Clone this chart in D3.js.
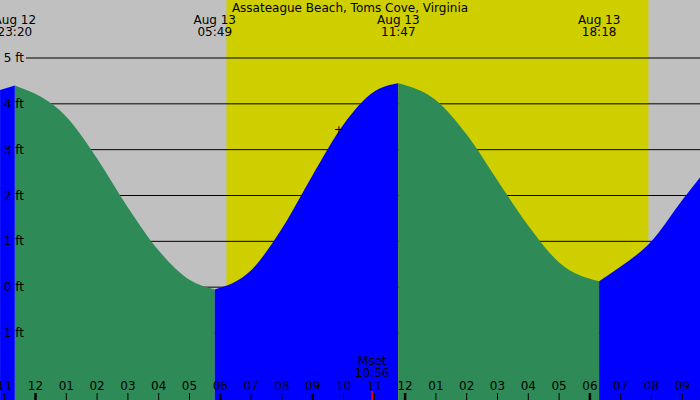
<!DOCTYPE html>
<html><head><meta charset="utf-8">
<script src="https://cdn.jsdelivr.net/npm/d3@7"></script>
<style>body{margin:0;background:#fff}text{font-family:"DejaVu Sans",sans-serif;font-size:12px;fill:#000}</style>
</head><body><div id="chart"></div>
<script>
// Hours from midnight Aug 13 and tide heights (ft).
var hours   = [-1.15, -0.67, 1, 2, 3, 4, 5, 5.82, 7, 8, 9, 10, 11, 11.78, 13, 14, 15, 16, 17, 18.3, 19, 20, 21, 21.7];
var heights = [4.3, 4.4, 3.72, 2.81, 1.74, 0.8, 0.16, -0.05, 0.37, 1.28, 2.45, 3.55, 4.27, 4.45, 4.08, 3.33, 2.33, 1.34, 0.54, 0.13, 0.45, 1.0, 1.9, 2.5];
// Extremes split the fill into rising (blue) and falling (green) parts.
var extremeHours = [-0.67, 5.82, 11.78, 18.3];
var extremeLabels = [['Aug 12', '23:20'], ['Aug 13', '05:49'], ['Aug 13', '11:47'], ['Aug 13', '18:18']];
var sunrise = 6.2, sunset = 19.9;
var moonset = 10.93, moonsetLabel = ['Mset', '10:56'];
var ftTicks = [-1, 0, 1, 2, 3, 4, 5];
var hourTicks = d3.range(-1, 22);

var W = 700, H = 400;
var svg = d3.select('#chart').append('svg').attr('width', W).attr('height', H);
var x = d3.scaleLinear().domain([0, 1]).range([35.5, 66.3]);
var y = d3.scaleLinear().domain([-1, 5]).range([333, 58]);

// Night / day background.
svg.append('rect').attr('width', W).attr('height', H).attr('fill', '#c0c0c0');
svg.append('rect').attr('x', x(sunrise)).attr('width', x(sunset) - x(sunrise))
    .attr('height', H).attr('fill', '#cfcf00');

// Height grid lines.
svg.selectAll('.grid').data(ftTicks).enter().append('line')
    .attr('x1', 26).attr('x2', W).attr('y1', d => y(d)).attr('y2', d => y(d))
    .attr('stroke', '#000').attr('stroke-width', 1);

// Tide fill, coloured per segment.
var pts = hours.map((h, i) => [h, heights[i]]);
var area = d3.area().x(d => x(d[0])).y0(H).y1(d => y(d[1])).curve(d3.curveMonotoneX);
var bounds = [hours[0]].concat(extremeHours, [hours[hours.length - 1]]);
for (var i = 0; i < bounds.length - 1; i++) {
    var seg = pts.filter(p => p[0] >= bounds[i] && p[0] <= bounds[i + 1]);
    svg.append('path').attr('d', area(seg))
        .attr('fill', i % 2 === 0 ? '#0000ff' : '#2e8b57');
}

// Height labels.
svg.selectAll('.ft').data(ftTicks).enter().append('text')
    .attr('x', 24).attr('y', d => y(d) + 4).attr('text-anchor', 'end')
    .text(d => d + ' ft');

// Extreme time labels.
extremeHours.forEach(function (h, i) {
    var t = svg.append('text').attr('text-anchor', 'middle');
    t.append('tspan').attr('x', x(h)).attr('y', 24).text(extremeLabels[i][0]);
    t.append('tspan').attr('x', x(h)).attr('y', 36).text(extremeLabels[i][1]);
});
svg.append('text').attr('x', 350).attr('y', 12).attr('text-anchor', 'middle')
    .text('Assateague Beach, Toms Cove, Virginia');
svg.append('text').attr('x', x(9.85)).attr('y', 134).attr('text-anchor', 'middle').text('+');

// Hour axis.
svg.selectAll('.hl').data(hourTicks).enter().append('text')
    .attr('x', d => x(d)).attr('y', 390).attr('text-anchor', 'middle')
    .text(d => d3.format('02')(((d % 12) + 12) % 12 === 0 ? 12 : ((d % 12) + 12) % 12));
svg.selectAll('.ht').data(hourTicks).enter().append('line')
    .attr('x1', d => x(d)).attr('x2', d => x(d)).attr('y1', 393).attr('y2', H)
    .attr('stroke', '#000').attr('stroke-width', d => (d % 6 === 0 || d === 9) ? 2.5 : 1);

// Moonset.
var m = svg.append('text').attr('text-anchor', 'middle');
m.append('tspan').attr('x', x(moonset)).attr('y', 365).text(moonsetLabel[0]);
m.append('tspan').attr('x', x(moonset)).attr('y', 377).text(moonsetLabel[1]);
svg.append('line').attr('x1', x(moonset)).attr('x2', x(moonset)).attr('y1', 391).attr('y2', H)
    .attr('stroke', '#ff0000').attr('stroke-width', 1.5);
</script></body></html>
